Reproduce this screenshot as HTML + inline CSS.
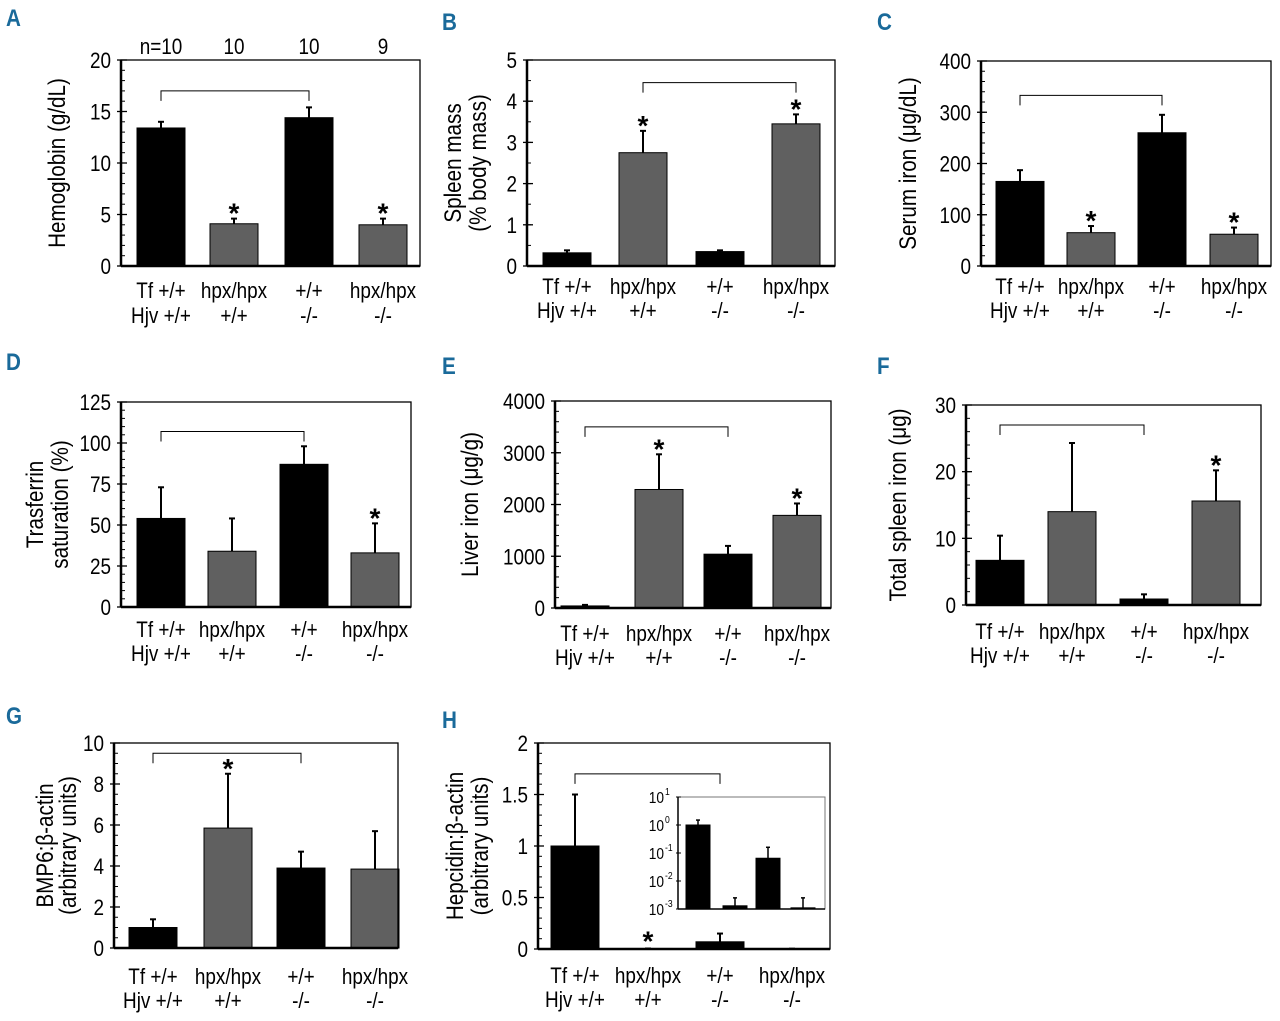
<!DOCTYPE html>
<html><head><meta charset="utf-8"><style>
body{margin:0;background:#fff;}
svg text{font-family:"Liberation Sans Narrow","Liberation Sans",sans-serif;}
</style></head><body>
<svg id="fig" width="1280" height="1016" viewBox="0 0 1280 1016" xmlns="http://www.w3.org/2000/svg"></svg>
<script>
const categoriesLine1 = ["Tf +/+","hpx/hpx","+/+","hpx/hpx"];
const categoriesLine2 = ["Hjv +/+","+/+","-/-","-/-"];
const colors = ["#000","#606060","#000","#606060"];
const valuesA = [13.4,4.1,14.4,4.0], errA = [14.0,4.6,15.4,4.6];
const valuesB = [0.32,2.75,0.35,3.45], errB = [0.38,3.28,0.38,3.68];
const valuesC = [165,65,260,62], errC = [187,78,295,75];
const valuesD = [54,34,87,33], errD = [73,54,98,51];
const valuesE = [40,2290,1040,1790], errE = [60,2970,1200,2020];
const valuesF = [6.7,14,0.9,15.6], errF = [10.4,24.3,1.6,20.2];
const valuesG = [1.0,5.85,3.9,3.85], errG = [1.4,8.5,4.7,5.7];
const valuesH = [1.0,0.005,0.07,0.003], errH = [1.5,0.005,0.15,0.003];
const insetValues = [1.0,0.0013,0.065,0.0011], insetErr = [1.5,0.0025,0.16,0.0025];
const nLabels = ["n=10","10","10","9"];

const NS="http://www.w3.org/2000/svg";
const svg=document.getElementById('fig');
function mk(tag,attrs,parent,txt){const e=document.createElementNS(NS,tag);for(const k in attrs)e.setAttribute(k,attrs[k]);if(txt!==undefined)e.textContent=txt;(parent||svg).appendChild(e);return e;}
function ctext(x,y,s,attrs,parent,rot){
 const a=Object.assign({x:0,y:0},attrs);
 a.transform=`translate(${x} ${y})`+(rot?` rotate(${rot})`:'')+' scale(0.86 1)';
 return mk('text',a,parent,s);
}

const panels=[
 {id:'a',L:'A',lx:6,ly:26,x0:121,x1:420,y0:60,y1:266,max:20,step:5,minor:1,vals:valuesA,err:errA,cx:[161,234,309,383],br:[0,2,17],stars:[1,3],title:["Hemoglobin (g/dL)"],tx:[57],lab:[298,323]},
 {id:'b',L:'B',lx:442,ly:30,x0:527,x1:835,y0:60,y1:266,max:5,step:1,minor:0.5,vals:valuesB,err:errB,cx:[567,643,720,796],br:[1,3,4.45],stars:[1,3],title:["Spleen mass","(% body mass)"],tx:[453,478],lab:[294,318]},
 {id:'c',L:'C',lx:877,ly:30,x0:981,x1:1271,y0:61,y1:266,max:400,step:100,minor:20,vals:valuesC,err:errC,cx:[1020,1091,1162,1234],br:[0,2,333],stars:[1,3],title:["Serum iron (μg/dL)"],tx:[908],lab:[294,318]},
 {id:'d',L:'D',lx:6,ly:370,x0:121,x1:411,y0:402,y1:607,max:125,step:25,minor:5,vals:valuesD,err:errD,cx:[161,232,304,375],br:[0,2,107],stars:[3],title:["Trasferrin","saturation (%)"],tx:[35,60],lab:[637,661]},
 {id:'e',L:'E',lx:442,ly:374,x0:555,x1:831,y0:401,y1:608,max:4000,step:1000,minor:200,vals:valuesE,err:errE,cx:[585,659,728,797],br:[0,2,3500],stars:[1,3],title:["Liver iron (μg/g)"],tx:[470],lab:[641,665]},
 {id:'f',L:'F',lx:877,ly:374,x0:966,x1:1261,y0:405,y1:605,max:30,step:10,minor:2,vals:valuesF,err:errF,cx:[1000,1072,1144,1216],br:[0,2,27],stars:[3],title:["Total spleen iron (μg)"],tx:[898],lab:[639,663]},
 {id:'g',L:'G',lx:6,ly:724,x0:114,x1:398,y0:743,y1:948,max:10,step:2,minor:0.5,vals:valuesG,err:errG,cx:[153,228,301,375],br:[0,2,9.5],stars:[1],title:["BMP6:β-actin","(arbitrary units)"],tx:[45,68],lab:[984,1008]},
 {id:'h',L:'H',lx:442,ly:728,x0:538,x1:830,y0:743,y1:949,max:2,step:0.5,minor:0.1,vals:valuesH,err:errH,cx:[575,648,720,792],br:[0,2,1.7],stars:[1],title:["Hepcidin:β-actin","(arbitrary units)"],tx:[455,480],lab:[983,1007]}
];

panels.forEach(p=>{
 const g=mk('g',{});
 
 
 const y=v=>p.y1-(v/p.max)*(p.y1-p.y0);
 const letter=ctext(p.lx,p.ly,p.L,{'font-size':24,'font-weight':'bold',fill:'#1a6a9a'},g);
 
 
 p.vals.forEach((v,i)=>{
  const c=p.cx[i], w=48;
  const b=mk('rect',{x:c-w/2,y:y(v),width:w,height:p.y1-y(v),fill:colors[i],stroke:'#000','stroke-width':1},g);
  
  
  const e=mk('line',{x1:c,x2:c,y1:y(v),y2:y(p.err[i]),stroke:'#000','stroke-width':2},g);
  
  
  mk('line',{x1:c-3,x2:c+3,y1:y(p.err[i]),y2:y(p.err[i]),stroke:'#000','stroke-width':2},g);
 });
 const fr=mk('rect',{x:p.x0,y:p.y0,width:p.x1-p.x0,height:p.y1-p.y0,fill:'none',stroke:'#000','stroke-width':1.3},g);
 
 
 mk('line',{x1:p.x0,x2:p.x0,y1:p.y0,y2:p.y1,stroke:'#000','stroke-width':2.5},g);
 mk('line',{x1:p.x0,x2:p.x1,y1:p.y1,y2:p.y1,stroke:'#000','stroke-width':2.5},g);
 for(let t=0;t<=p.max+1e-9;t+=p.minor){mk('line',{x1:p.x0,x2:p.x0+4,y1:y(t),y2:y(t),stroke:'#000','stroke-width':1},g);}
 for(let t=0;t<=p.max+1e-9;t+=p.step){
  mk('line',{x1:p.x0-4,x2:p.x0+6,y1:y(t),y2:y(t),stroke:'#000','stroke-width':1.3},g);
  const tl=ctext(p.x0-10,y(t)+8,String(+t.toFixed(2)),{'font-size':22,'text-anchor':'end'},g);
  
  
 }
 const by=y(p.br[2]), bx0=p.cx[p.br[0]], bx1=p.cx[p.br[1]];
 const br=mk('path',{d:`M${bx0},${by+10}V${by}H${bx1}V${by+10}`,fill:'none',stroke:'#000','stroke-width':1},g);
 
 
 p.stars.forEach(i=>{
  const s=mk('text',{x:p.cx[i],y:y(p.err[i])+(p.id==='h'?-2:0)+4,'font-size':28,'font-weight':'bold','text-anchor':'middle'},g,'*');
  
  
 });
 p.cx.forEach((c,i)=>{
  const a=ctext(c,p.lab[0],categoriesLine1[i],{'font-size':22,'text-anchor':'middle'},g);
  
  
  const b=ctext(c,p.lab[1],categoriesLine2[i],{'font-size':22,'text-anchor':'middle'},g);
  
  
 });
 const cy=(p.y0+p.y1)/2;
 p.title.forEach((t,k)=>{
  const tt=ctext(p.tx[k]+8,cy,t,{'font-size':24,'text-anchor':'middle'},g,-90);
  
  
 });
 if(p.id==='a'){
  p.cx.forEach((c,i)=>{
   const n=ctext(c,54,nLabels[i],{'font-size':22,'text-anchor':'middle'},g);
   
   
  });
 }
});

(function(){
 const g=mk('g',{});
 
 
 const x0=678,x1=825,y0=797,y1=909,lo=-3,hi=1;
 const y=v=>y1-(Math.log10(v)-lo)/(hi-lo)*(y1-y0);
 const cx=[698,735,768,803];
 insetValues.forEach((v,i)=>{
  const b=mk('rect',{x:cx[i]-12,y:y(v),width:24,height:y1-y(v),fill:'#000',stroke:'#000','stroke-width':1},g);
  
  
  mk('line',{x1:cx[i],x2:cx[i],y1:y(v),y2:y(insetErr[i]),stroke:'#000','stroke-width':1.5},g);
  mk('line',{x1:cx[i]-2,x2:cx[i]+2,y1:y(insetErr[i]),y2:y(insetErr[i]),stroke:'#000','stroke-width':1.5},g);
 });
 mk('rect',{x:x0,y:y0,width:x1-x0,height:y1-y0,fill:'none',stroke:'#777','stroke-width':1},g);
 mk('line',{x1:x0,x2:x0,y1:y0,y2:y1,stroke:'#000','stroke-width':1.5},g);
 mk('line',{x1:x0,x2:x1,y1:y1,y2:y1,stroke:'#000','stroke-width':1.5},g);
 for(let e=lo;e<=hi;e++){
  const yy=y1-(e-lo)/(hi-lo)*(y1-y0);
  mk('line',{x1:x0-2,x2:x0+3,y1:yy,y2:yy,stroke:'#000'},g);
  const t=ctext(x0-14,yy+6,'10',{'font-size':16,'text-anchor':'end'},g);
  
  
  ctext(x0-13,yy-2,String(e),{'font-size':10,'text-anchor':'start'},g);
 }
})();
</script>
</body></html>
